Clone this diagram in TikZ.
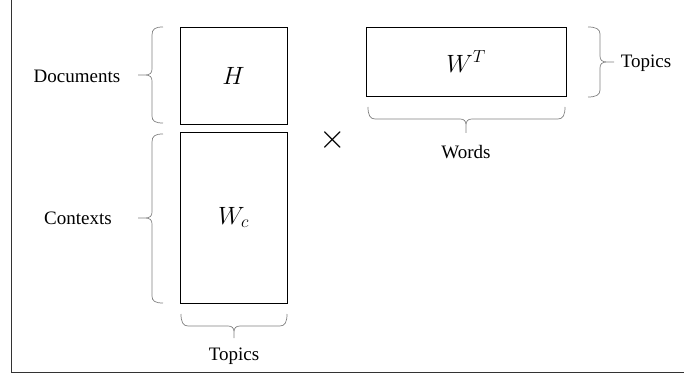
\RequirePackage{fix-cm}
\documentclass[tikz,border=0pt]{standalone}
\usepackage{fontspec}
\setmainfont{Liberation Serif}
\usepackage{tikz}

\tikzset{
  mat/.style={draw=black, line width=0.8pt, inner sep=0pt, font=\fontsize{25}{30}\selectfont},
  brc/.style={draw=gray, line width=0.7pt},
  lbl/.style={inner sep=0pt, font=\rmfamily\fontsize{19}{23}\selectfont}
}

\begin{document}
\begin{tikzpicture}[x=1pt, y=-1pt]
   \useasboundingbox (0,0) rectangle (684,374);

   % frame
   \draw[line width=0.8pt, black!80] (11.5,0) -- (11.5,372.5) -- (684,372.5);

   % matrices
   \node[mat, minimum width=107pt, minimum height=97pt] (H) at (233.5,75.5) {$H$};
   \node[mat, minimum width=107pt, minimum height=171pt] (Wc) at (233.5,217.5) {$W_c$};
   \node[mat, minimum width=200pt, minimum height=69pt] (WT) at (466,61.5) {$W^T$};
   \node[font=\fontsize{34}{34}\selectfont, inner sep=0pt] (times) at (333,140) {$\times$};

   % labels
   \node[lbl] (docs) at (77,76) {Documents};
   \node[lbl] (ctx) at (78,218) {Contexts};
   \node[lbl] (topbot) at (234,356) {Topics};
   \node[lbl] (words) at (466,152) {Words};
   \node[lbl] (topright) at (646,63) {Topics};

   % braces
   \draw[brc] (163,27) .. controls (155,27) and (152,29) .. (152,35) -- (152,69)
      .. controls (152,73) and (150,75) .. (145,75) -- (138,75)
      (145,75) .. controls (150,75) and (152,77) .. (152,81) -- (152,116)
      .. controls (152,121) and (155,123) .. (163,123);
   \draw[brc] (163,134) .. controls (155,134) and (152,136) .. (152,142) -- (152,212)
      .. controls (152,216) and (150,218) .. (145,218) -- (138,218)
      (145,218) .. controls (150,218) and (152,220) .. (152,224) -- (152,296)
      .. controls (152,301) and (155,303) .. (163,303);
   \draw[brc] (181,314) .. controls (181,322) and (183,326) .. (188,326) -- (228,326)
      .. controls (232,326) and (234,328) .. (234,332) -- (234,338)
      (234,332) .. controls (234,328) and (236,326) .. (240,326) -- (280,326)
      .. controls (285,326) and (287,322) .. (287,314);
   \draw[brc] (368,107) .. controls (368,115) and (370,119) .. (375,119) -- (460,119)
      .. controls (464,119) and (466,121) .. (466,125) -- (466,133)
      (466,125) .. controls (466,121) and (468,119) .. (472,119) -- (558,119)
      .. controls (563,119) and (565,115) .. (565,107);
   \draw[brc] (588,27) .. controls (596,27) and (600,29) .. (600,34) -- (600,56)
      .. controls (600,60) and (602,62) .. (607,62) -- (614,62)
      (607,62) .. controls (602,62) and (600,64) .. (600,68) -- (600,90)
      .. controls (600,95) and (596,97) .. (588,97);
\end{tikzpicture}
\end{document}
